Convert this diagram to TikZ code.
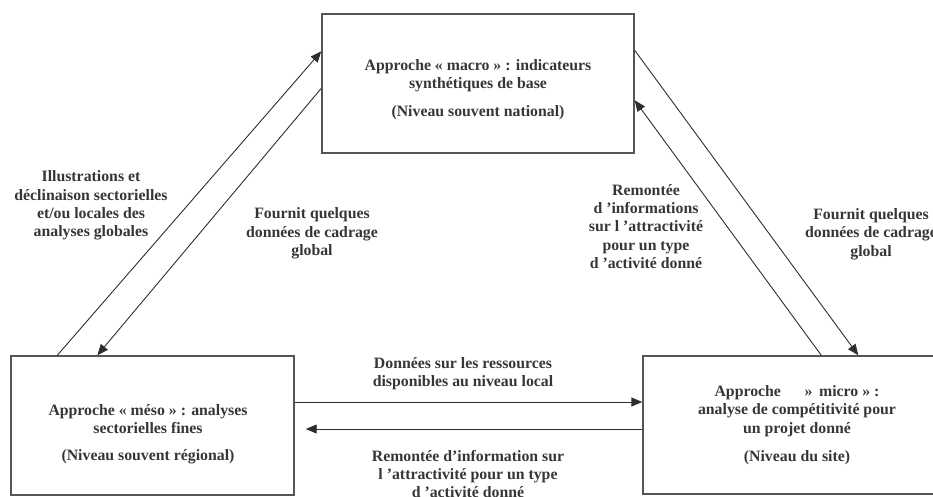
\documentclass[tikz,border=0pt]{standalone}
\usepackage{fontspec}
\setmainfont{Liberation Serif}
\usetikzlibrary{arrows.meta,calc}
\definecolor{txt}{HTML}{363636}
\definecolor{boxc}{HTML}{555555}
\definecolor{linec}{HTML}{2E2E2E}
\tikzset{
  box/.style={draw=boxc,line width=1.4pt,rectangle,inner sep=0pt},
  lbl/.style={text=txt,font=\bfseries\fontsize{15.8}{18.3}\selectfont,align=center,inner sep=0pt},
  conn/.style={draw=linec,line width=0.9pt,-{Triangle[length=11pt,width=9pt]}},
}
\begin{document}
\begin{tikzpicture}[x=1pt,y=-1pt]
\useasboundingbox (0,0) rectangle (933,496);
\clip (0,0) rectangle (933,496);
% boxes
\node[box,minimum width=312pt,minimum height=139pt] (macro) at (478,83.5) {};
\node[box,minimum width=283pt,minimum height=139pt] (meso) at (152.5,425.5) {};
\node[box,minimum width=308pt,minimum height=138pt] (micro) at (797,425) {};
% box texts
\node[lbl] (macrot) at (478,76) {Approche « macro » : indicateurs\\synthétiques de base};
\node[lbl] (macron) at (478,113) {(Niveau souvent national)};
\node[lbl] (mesot) at (148,419) {Approche « méso » : analyses\\sectorielles fines};
\node[lbl] (meson) at (148,457) {(Niveau souvent régional)};
\node[lbl] (microt) at (797,411) {Approche \quad\ » \,micro » :\\analyse de compétitivité pour\\un projet donné};
\node[lbl] (micron) at (797,458) {(Niveau du site)};
% connector endpoints
\coordinate (a1s) at ([xshift=47pt]meso.north west);
\coordinate (a1e) at ([yshift=-38pt]macro.north west);
\coordinate (a2s) at ([yshift=-75pt]macro.north west);
\coordinate (a2e) at ([xshift=87pt]meso.north west);
\coordinate (a3s) at ([yshift=-37pt]macro.north east);
\coordinate (a3e) at ([xshift=216pt]micro.north west);
\coordinate (a4s) at ([xshift=179pt]micro.north west);
\coordinate (a4e) at ([yshift=-87pt]macro.north east);
\coordinate (a5s) at (meso.east |- 0,402);
\coordinate (a5e) at (micro.west |- 0,402);
\coordinate (a6s) at (micro.west |- 0,429);
\coordinate (a6e) at ([xshift=11pt]meso.east |- 0,429);
% connectors
\draw[conn] (a1s) -- (a1e);
\draw[conn] (a2s) -- (a2e);
\draw[conn] (a3s) -- (a3e);
\draw[conn] (a4s) -- (a4e);
\draw[conn] (a5s) -- (a5e);
\draw[conn] (a6s) -- (a6e);
% labels
\node[lbl] (l1) at (91,205.5) {Illustrations et\\déclinaison sectorielles\\et/ou locales des\\analyses globales};
\node[lbl] (l2) at (312,233.5) {Fournit quelques\\données de cadrage\\global};
\node[lbl] (l3) at (646,226.5) {Remontée\\d ’informations\\sur l ’attractivité\\pour un type\\d ’activité donné};
\node[lbl] (l4) at (871,234) {Fournit quelques\\données de cadrage\\global};
\node[lbl] (l5) at (463,373.5) {Données sur les ressources\\disponibles au niveau local};
\node[lbl] (l6) at (468,474) {Remontée d’information sur\\l ’attractivité pour un type\\d ’activité donné};
\end{tikzpicture}
\end{document}
